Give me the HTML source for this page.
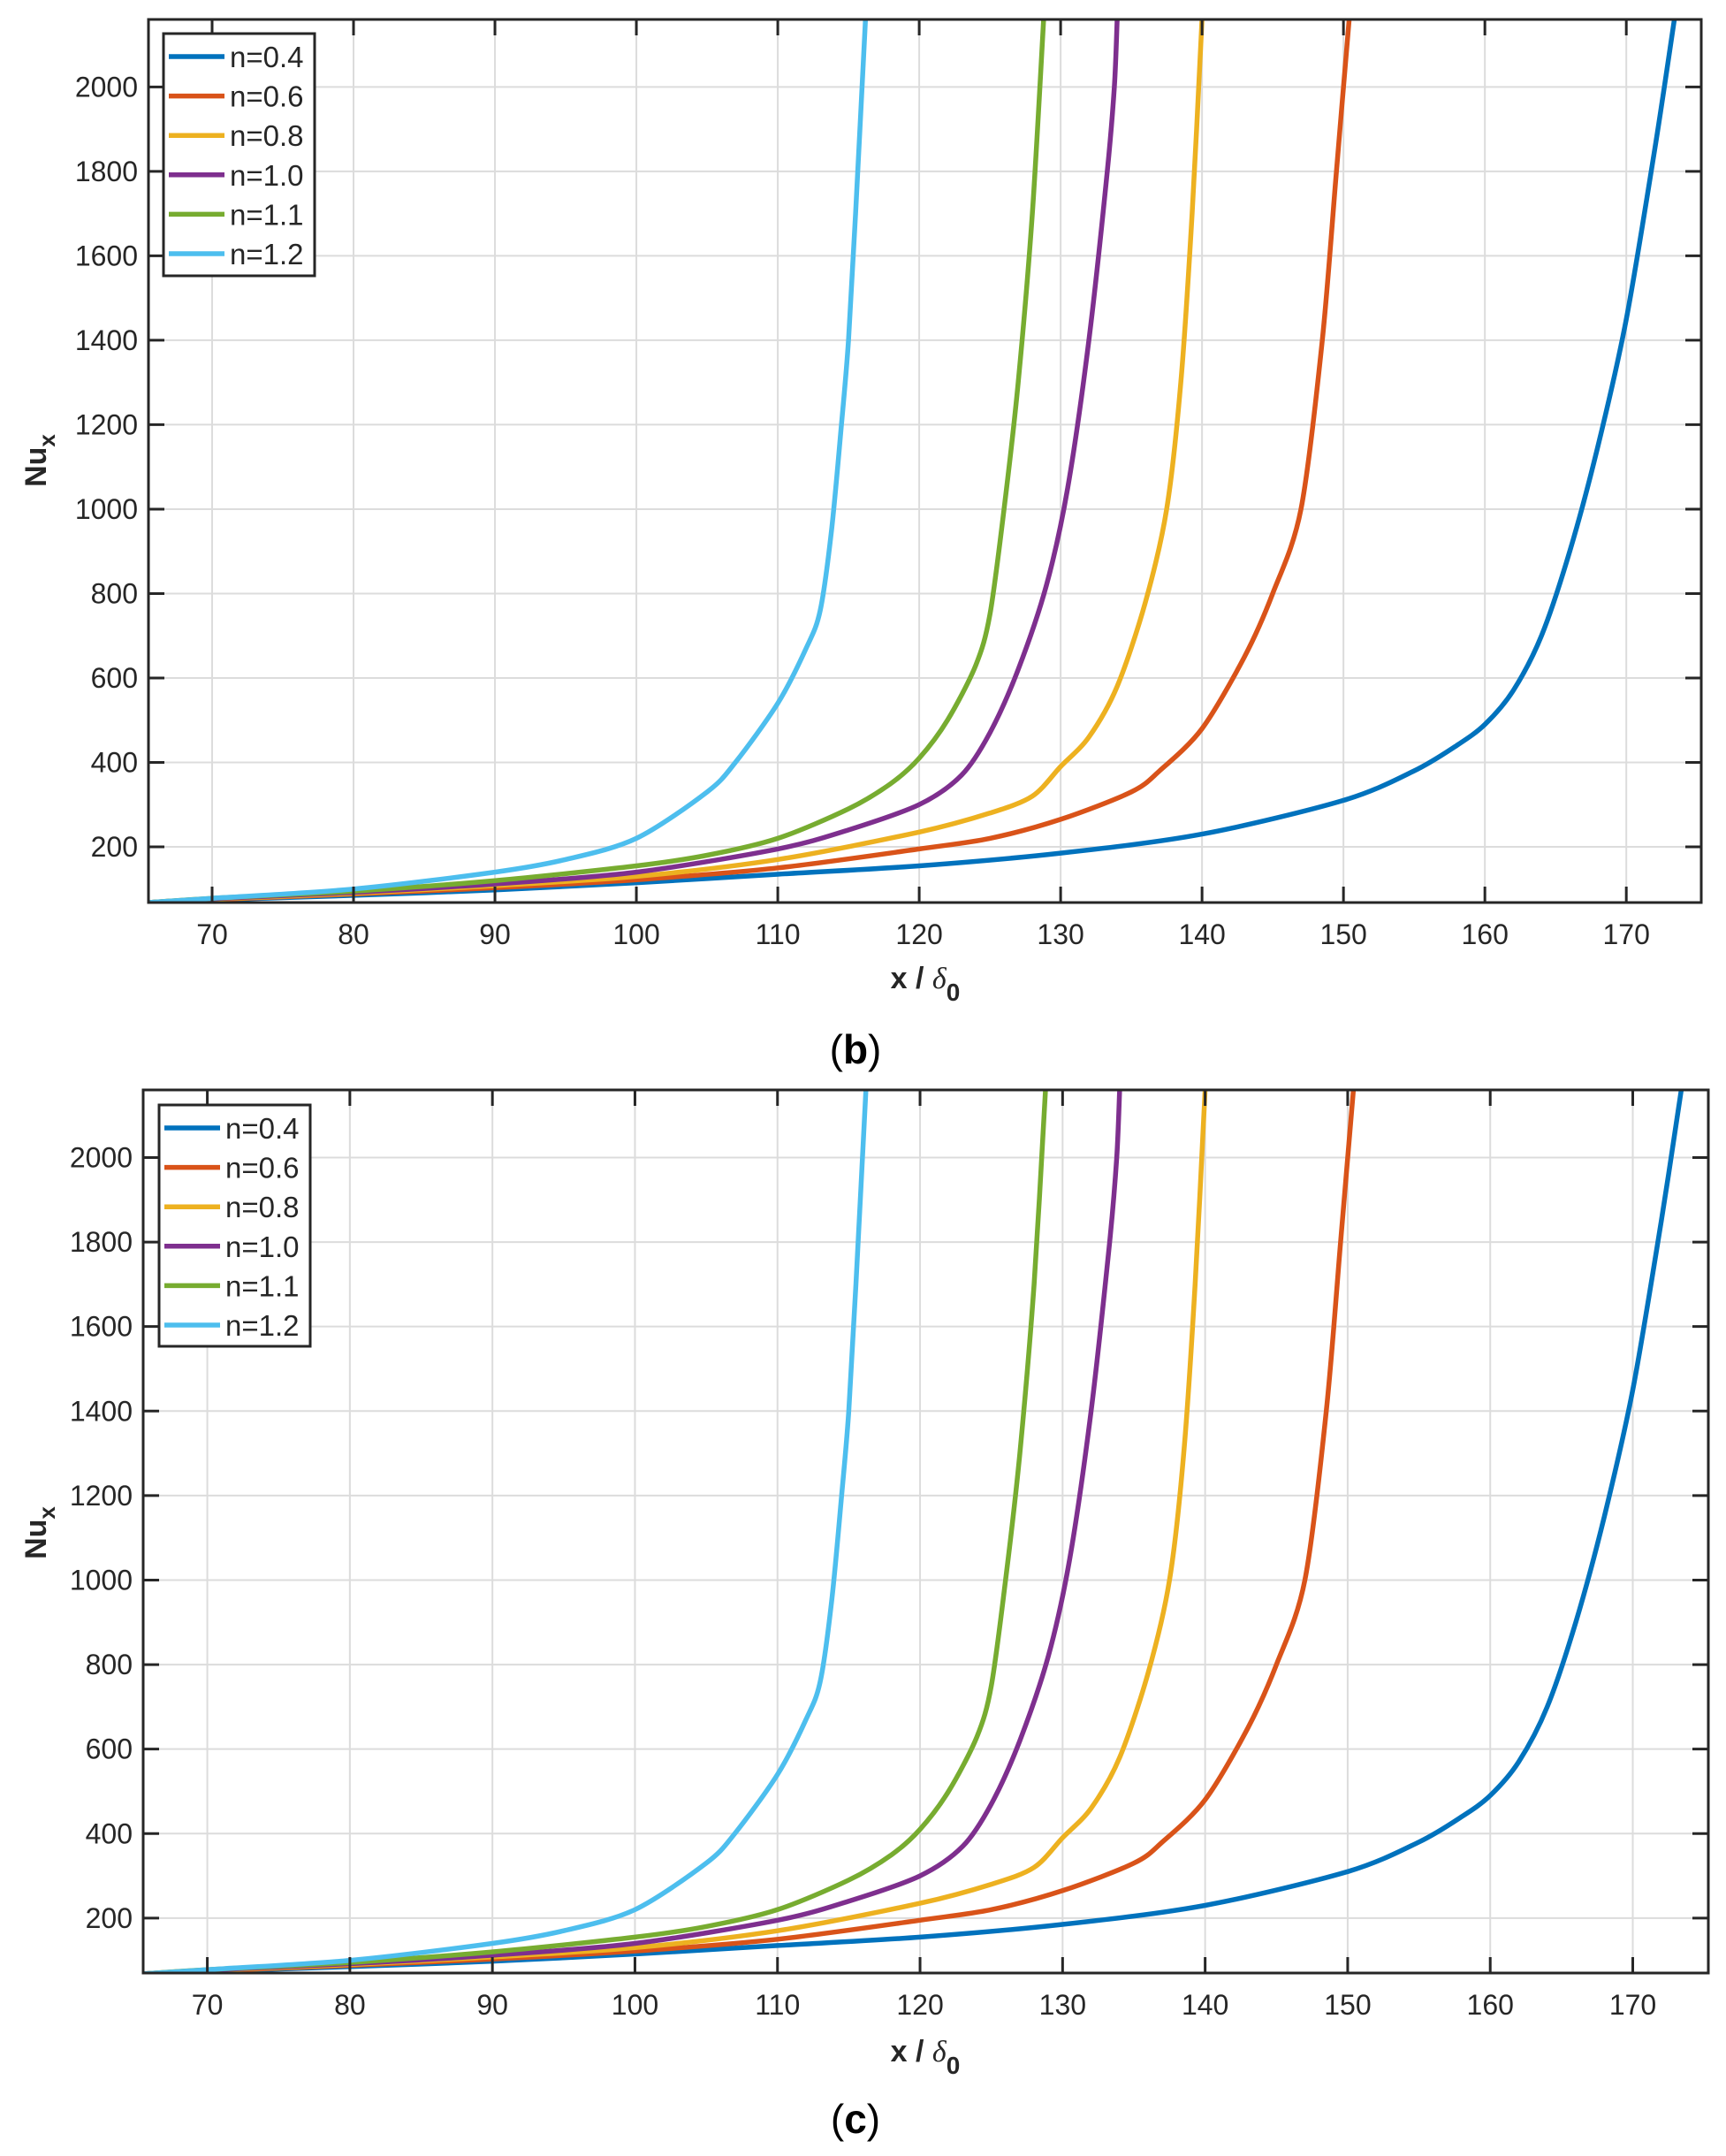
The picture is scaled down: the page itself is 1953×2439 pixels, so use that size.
<!DOCTYPE html>
<html><head><meta charset="utf-8">
<style>
html,body{margin:0;padding:0;background:#fff;}
svg{display:block;}
text{font-family:"Liberation Sans",sans-serif;}
</style></head>
<body>
<svg id="fig" width="1953" height="2439" viewBox="0 0 1953 2439" xmlns="http://www.w3.org/2000/svg"></svg>
<script>
const seriesNames = ["n=0.4","n=0.6","n=0.8","n=1.0","n=1.1","n=1.2"];
const seriesColors = ["#0072BD","#D95319","#EDB120","#7E2F8E","#77AC30","#4DBEEE"];
const xTicks = [70,80,90,100,110,120,130,140,150,160,170];
const yTicks = [200,400,600,800,1000,1200,1400,1600,1800,2000];
const x04 = [65.5,70,80,90,100,110,120,130,140,150,155,158,160,162,164,166,168,170,172,173.4];
const y04 = [68,74,85,98,115,135,155,185,230,310,380,440,490,570,700,900,1150,1450,1850,2160];
const x06 = [65.5,70,80,90,100,110,120,125,130,135,137,140,143,145,147,148.5,149.5,150.4];
const y06 = [68,75,88,103,122,150,195,220,265,330,380,480,650,800,1000,1400,1800,2160];
const x08 = [65.5,70,80,90,100,110,120,125,128,130,132,134,136,137.5,138.5,139.3,140];
const y08 = [68,76,90,108,130,170,235,280,320,390,460,580,780,1000,1300,1700,2160];
const x10 = [65.5,70,80,90,100,110,115,120,123,125,127,129,130.5,132,133.3,133.8,134];
const y10 = [68,77,92,112,140,195,240,300,370,470,620,820,1050,1400,1800,2000,2160];
const x11 = [65.5,70,80,90,100,105,110,115,118,120,122,124,125,126,127,128,128.8];
const y11 = [68,78,95,120,155,180,220,290,350,410,500,630,750,1000,1300,1700,2160];
const x12 = [65.5,70,80,90,95,100,105,107,110,112,113,113.8,114.5,115,115.5,116.2];
const y12 = [68,78,100,140,170,220,330,400,540,670,760,950,1200,1400,1700,2160];
const seriesX = [x04,x06,x08,x10,x11,x12];
const seriesY = [y04,y06,y08,y10,y11,y12];
const xMin = 65.5, xMax = 175.3, yMax = 2160;

const NS = "http://www.w3.org/2000/svg";
const svg = document.getElementById("fig");
function mk(tag, attrs, parent, txt){
  const e = document.createElementNS(NS, tag);
  for (const k in attrs) e.setAttribute(k, attrs[k]);
  if (txt !== undefined) e.textContent = txt;
  (parent||svg).appendChild(e);
  return e;
}
function smoothPath(P){
  let d = "M" + P[0][0].toFixed(1) + "," + P[0][1].toFixed(1);
  for (let i = 0; i < P.length - 1; i++){
    const p0 = P[i-1] || P[i], p1 = P[i], p2 = P[i+1], p3 = P[i+2] || P[i+1];
    const t = 0.15;
    const c1 = [p1[0] + (p2[0]-p0[0])*t, p1[1] + (p2[1]-p0[1])*t];
    const c2 = [p2[0] - (p3[0]-p1[0])*t, p2[1] - (p3[1]-p1[1])*t];
    d += " C" + c1[0].toFixed(1) + "," + c1[1].toFixed(1) + " " + c2[0].toFixed(1) + "," + c2[1].toFixed(1) + " " + p2[0].toFixed(1) + "," + p2[1].toFixed(1);
  }
  return d;
}

const panels = [
  {id:"b", L:168, R:1925, T:22, B:1021, yMin:68, legX:185, legY:38, legW:171, legH:274, nuY:521, xlY:1118, capY:1203},
  {id:"c", L:162, R:1933, T:1233, B:2232, yMin:70, legX:180, legY:1250, legW:171, legH:273, nuY:1734, xlY:2332, capY:2413}
];

panels.forEach(p => {
  const g = mk("g", {});
  
  
  const sx = v => p.L + (v - xMin) / (xMax - xMin) * (p.R - p.L);
  const sy = v => p.B - (v - p.yMin) / (yMax - p.yMin) * (p.B - p.T);
  xTicks.forEach(t => {
    const l = mk("line", {x1:sx(t), x2:sx(t), y1:p.T, y2:p.B, stroke:"#dcdcdc", "stroke-width":2}, g);
    
    
  });
  yTicks.forEach(t => {
    const l = mk("line", {x1:p.L, x2:p.R, y1:sy(t), y2:sy(t), stroke:"#dcdcdc", "stroke-width":2}, g);
    
    
  });
  const clipId = "clip-" + p.id;
  const defs = mk("defs", {}, g);
  const cp = mk("clipPath", {id:clipId}, defs);
  mk("rect", {x:p.L, y:p.T, width:p.R-p.L, height:p.B-p.T}, cp);
  seriesX.forEach((xs, i) => {
    const ys = seriesY[i];
    const pts = xs.map((x, j) => [sx(x), sy(ys[j])]);
    const pl = mk("path", {d:smoothPath(pts), fill:"none", stroke:seriesColors[i], "stroke-width":5.5, "stroke-linejoin":"round", "clip-path":"url(#" + clipId + ")"}, g);
    
    
  });
  const box = mk("rect", {x:p.L, y:p.T, width:p.R-p.L, height:p.B-p.T, fill:"none", stroke:"#262626", "stroke-width":3}, g);
  
  
  xTicks.forEach(t => {
    mk("line", {x1:sx(t), x2:sx(t), y1:p.B, y2:p.B-18, stroke:"#262626", "stroke-width":3}, g);
    mk("line", {x1:sx(t), x2:sx(t), y1:p.T, y2:p.T+18, stroke:"#262626", "stroke-width":3}, g);
    const tx = mk("text", {x:sx(t), y:p.B+47, "text-anchor":"middle", "font-size":32, fill:"#262626"}, g, String(t));
    
    
  });
  yTicks.forEach(t => {
    mk("line", {x1:p.L, x2:p.L+18, y1:sy(t), y2:sy(t), stroke:"#262626", "stroke-width":3}, g);
    mk("line", {x1:p.R, x2:p.R-18, y1:sy(t), y2:sy(t), stroke:"#262626", "stroke-width":3}, g);
    const ty = mk("text", {x:p.L-12, y:sy(t)+11, "text-anchor":"end", "font-size":32, fill:"#262626"}, g, String(t));
    
    
  });
  const yt = mk("text", {transform:"translate(52," + p.nuY + ") rotate(-90)", "text-anchor":"middle", "font-size":34, "font-weight":"bold", fill:"#262626"}, g);
  
  
  mk("tspan", {}, yt, "Nu");
  mk("tspan", {dy:10, "font-size":26}, yt, "x");
  const xt = mk("text", {x:1047, y:p.xlY, "text-anchor":"middle", "font-size":34, fill:"#262626"}, g);
  
  
  mk("tspan", {"font-weight":"bold"}, xt, "x / ");
  mk("tspan", {"font-style":"italic", "font-family":"Liberation Serif, serif"}, xt, "δ");
  mk("tspan", {dy:14, "font-size":28, "font-weight":"bold"}, xt, "0");
  const cap = mk("text", {x:968, y:p.capY, "text-anchor":"middle", "font-size":46, "font-family":"Liberation Serif, serif", fill:"#000"}, g);
  
  
  mk("tspan", {}, cap, "(");
  mk("tspan", {"font-weight":"bold"}, cap, p.id);
  mk("tspan", {}, cap, ")");
  const lg = mk("g", {}, g);
  
  
  mk("rect", {x:p.legX, y:p.legY, width:p.legW, height:p.legH, fill:"#fff", stroke:"#262626", "stroke-width":3}, lg);
  seriesNames.forEach((nm, i) => {
    const cy = p.legY + 26 + i * 44.6;
    const e = mk("g", {}, lg);
    
    
    mk("line", {x1:p.legX+6, x2:p.legX+69, y1:cy, y2:cy, stroke:seriesColors[i], "stroke-width":5.5}, e);
    mk("text", {x:p.legX+75, y:cy+12, "font-size":33, fill:"#262626"}, e, nm);
  });
});
</script>
</body></html>
